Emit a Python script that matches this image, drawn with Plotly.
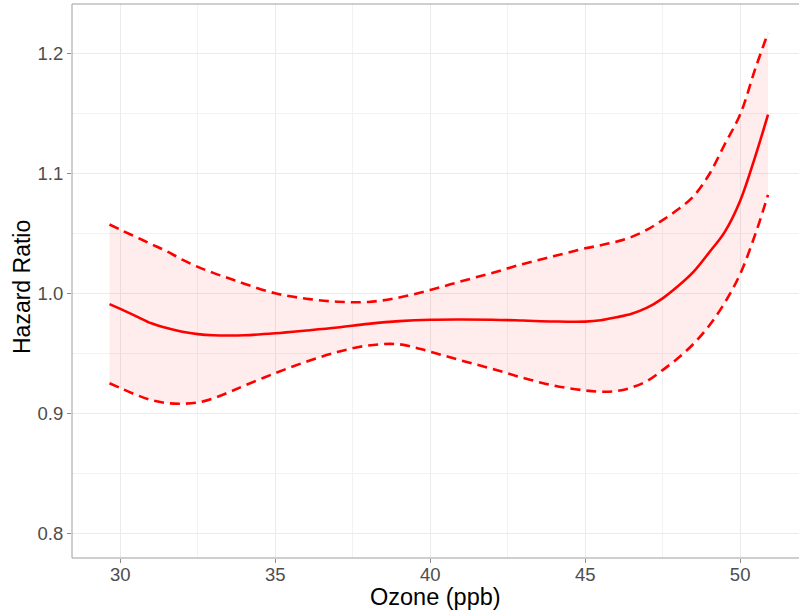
import plotly.graph_objects as go

# ---- data ----
ozone = [29.65, 30.0, 30.5, 31.0, 31.5, 32.0, 32.5, 33.0, 33.5, 34.0, 35.0, 36.0,
         37.0, 38.0, 39.0, 40.0, 41.0, 42.0, 43.0, 44.0, 45.0, 45.5, 46.0, 46.5,
         47.0, 47.5, 48.0, 48.5, 49.0, 49.5, 50.0, 50.5, 50.9]

hr = [0.991, 0.987, 0.981, 0.975, 0.971, 0.968, 0.966, 0.965, 0.9648, 0.965, 0.9667,
      0.969, 0.9715, 0.9745, 0.9768, 0.978, 0.9782, 0.978, 0.9773, 0.9765, 0.9764,
      0.9775, 0.980, 0.983, 0.988, 0.9958, 1.006, 1.018, 1.034, 1.051, 1.077, 1.115, 1.149]

hr_upper = [1.0573, 1.053, 1.047, 1.041, 1.035, 1.028, 1.022, 1.017, 1.0125, 1.008, 1.0,
            0.9955, 0.993, 0.9928, 0.9965, 1.0028, 1.010, 1.017, 1.0245, 1.031, 1.0375,
            1.040, 1.043, 1.047, 1.053, 1.061, 1.070, 1.081, 1.099, 1.124, 1.149, 1.188, 1.217]

hr_lower = [0.925, 0.921, 0.9155, 0.911, 0.9085, 0.908, 0.909, 0.9125, 0.9175, 0.923, 0.9335,
            0.943, 0.951, 0.9565, 0.9575, 0.9513, 0.944, 0.937, 0.9295, 0.923, 0.919,
            0.918, 0.9185, 0.9215, 0.927, 0.936, 0.946, 0.958, 0.973, 0.992, 1.016, 1.050, 1.082]

x_ticks = [30, 35, 40, 45, 50]
y_ticks = [0.8, 0.9, 1.0, 1.1, 1.2]
y_tick_text = ["0.8", "0.9", "1.0", "1.1", "1.2"]

RED = "#ff0000"
FONT = "Liberation Sans, Arial, sans-serif"

fig = go.Figure()

# ribbon
fig.add_trace(go.Scatter(x=ozone, y=hr_lower, mode="lines", line=dict(width=0, shape="spline"),
                         hoverinfo="skip", showlegend=False))
fig.add_trace(go.Scatter(x=ozone, y=hr_upper, mode="lines", line=dict(width=0, shape="spline"),
                         fill="tonexty", fillcolor="rgba(255,0,0,0.07)",
                         hoverinfo="skip", showlegend=False))
# bounds
fig.add_trace(go.Scatter(x=ozone, y=hr_upper, mode="lines",
                         line=dict(color=RED, width=2.6, dash="10px,6px", shape="spline"),
                         showlegend=False))
fig.add_trace(go.Scatter(x=ozone, y=hr_lower, mode="lines",
                         line=dict(color=RED, width=2.6, dash="10px,6px", shape="spline"),
                         showlegend=False))
# estimate
fig.add_trace(go.Scatter(x=ozone, y=hr, mode="lines",
                         line=dict(color=RED, width=2.6, shape="spline"),
                         showlegend=False))

tickfont = dict(family=FONT, size=18.5, color="#4d4d4d")

fig.update_layout(
    width=799, height=610,
    margin=dict(l=72, r=0, t=4, b=52, autoexpand=False),
    paper_bgcolor="white", plot_bgcolor="white",
    xaxis=dict(range=[28.44, 51.9], tickvals=x_ticks, ticktext=[str(v) for v in x_ticks],
               automargin=False, ticklabelstandoff=-4,
               showgrid=True, gridcolor="#ebebeb", gridwidth=1,
               minor=dict(tickvals=[32.5, 37.5, 42.5, 47.5], showgrid=True,
                          gridcolor="#f2f2f2", gridwidth=1),
               ticks="outside", ticklen=4, tickcolor="#8c8c8c", tickwidth=1,
               tickfont=tickfont, zeroline=False, showline=False),
    yaxis=dict(range=[0.7794, 1.2411], tickvals=y_ticks, ticktext=y_tick_text,
               automargin=False,
               showgrid=True, gridcolor="#ebebeb", gridwidth=1,
               minor=dict(tickvals=[0.85, 0.95, 1.05, 1.15], showgrid=True,
                          gridcolor="#f2f2f2", gridwidth=1),
               ticks="outside", ticklen=4, tickcolor="#8c8c8c", tickwidth=1,
               tickfont=tickfont, zeroline=False, showline=False),
    shapes=[
        dict(type="line", xref="paper", yref="paper", x0=0, x1=0, y0=0, y1=1,
             line=dict(color="#9e9e9e", width=1)),
        dict(type="line", xref="paper", yref="paper", x0=0, x1=1, y0=1, y1=1,
             line=dict(color="#9e9e9e", width=1)),
        dict(type="line", xref="paper", yref="paper", x0=0, x1=1, y0=0, y1=0,
             line=dict(color="#9e9e9e", width=1)),
    ],
    annotations=[
        dict(text="Ozone (ppb)", xref="paper", yref="paper", x=0.5, y=0,
             yshift=-39, xanchor="center", yanchor="middle", showarrow=False,
             font=dict(family=FONT, size=23.5, color="black")),
        dict(text="Hazard Ratio", xref="paper", yref="paper", x=0, y=0.5,
             xshift=-50, yshift=-6, xanchor="center", yanchor="middle", textangle=-90,
             showarrow=False,
             font=dict(family=FONT, size=23, color="black")),
    ],
)

fig.write_html("out.html", config={"displayModeBar": False},
               post_script="document.body.style.margin='0';document.body.style.overflow='hidden';")
